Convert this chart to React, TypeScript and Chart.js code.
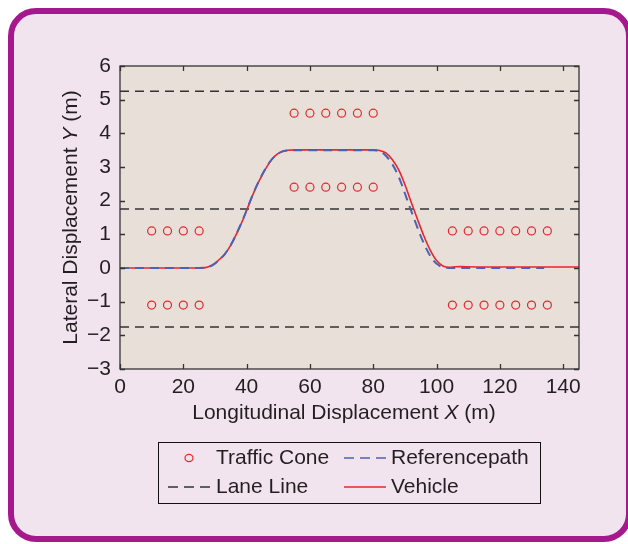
import React, { useEffect, useRef } from 'react';
import { Chart, registerables } from 'chart.js';

Chart.register(...registerables);

// ---------- data ----------
const xTicks = [0, 20, 40, 60, 80, 100, 120, 140];
const yTicks = [-3, -2, -1, 0, 1, 2, 3, 4, 5, 6];

const coneX = [
  10, 15, 20, 25,
  10, 15, 20, 25,
  55, 60, 65, 70, 75, 80,
  55, 60, 65, 70, 75, 80,
  105, 110, 115, 120, 125, 130, 135,
  105, 110, 115, 120, 125, 130, 135,
];
const coneY = [
  1.1, 1.1, 1.1, 1.1,
  -1.1, -1.1, -1.1, -1.1,
  4.6, 4.6, 4.6, 4.6, 4.6, 4.6,
  2.4, 2.4, 2.4, 2.4, 2.4, 2.4,
  1.1, 1.1, 1.1, 1.1, 1.1, 1.1, 1.1,
  -1.1, -1.1, -1.1, -1.1, -1.1, -1.1, -1.1,
];

const laneLevels = [5.25, 1.75, -1.75];
const laneX = [0, 145];

const refX = [0, 25, 27, 29, 31, 33, 35, 37, 39, 41, 43, 45, 47, 49, 51, 53, 55, 80, 81, 83, 85, 87, 89, 91, 93, 95, 97, 99, 101, 103, 105, 134];
const refY = [0, 0, 0.01, 0.07, 0.21, 0.40, 0.68, 1.06, 1.48, 1.96, 2.41, 2.79, 3.11, 3.33, 3.45, 3.49, 3.5, 3.5, 3.49, 3.42, 3.22, 2.92, 2.48, 1.95, 1.44, 0.95, 0.53, 0.22, 0.06, 0.01, 0, 0];

const vehX = [0, 25, 27, 29, 31, 33, 35, 37, 39, 41, 43, 45, 47, 49, 51, 53, 55, 80, 82, 84, 86, 88, 90, 92, 94, 96, 98, 100, 102, 104, 106, 108, 110, 115, 145];
const vehY = [0, 0, 0.01, 0.08, 0.22, 0.40, 0.68, 1.05, 1.47, 1.95, 2.40, 2.77, 3.10, 3.33, 3.45, 3.50, 3.51, 3.51, 3.49, 3.42, 3.22, 2.92, 2.48, 1.95, 1.44, 0.95, 0.53, 0.22, 0.06, 0.02, 0.035, 0.04, 0.035, 0.03, 0.03];

const legendLabels = ['Traffic Cone', 'Referencepath', 'Lane Line', 'Vehicle'];
const xTitleParts = ['Longitudinal Displacement ', 'X', ' (m)'];
const yTitleParts = ['Lateral Displacement ', 'Y', ' (m)'];

// ---------- styles ----------
const FAMILY = '"Liberation Sans", Arial, Helvetica, sans-serif';
const FS = 21;
const TEXT = '#231f20';
const RED = '#e8262b';
const BLUE = '#4a62b5';
const LANE = '#333333';
const PLOT_BG = '#e9dfd9';

const pts = (xs: number[], ys: number[]) => xs.map((x, i) => ({ x, y: ys[i] }));

function drawParts(ctx: CanvasRenderingContext2D, parts: string[], cx: number, cy: number) {
  const fonts = parts.map((_, i) => (i === 1 ? `italic ${FS}px ${FAMILY}` : `${FS}px ${FAMILY}`));
  const widths = parts.map((p, i) => {
    ctx.font = fonts[i];
    return ctx.measureText(p).width;
  });
  const total = widths.reduce((a, b) => a + b, 0);
  let x = cx - total / 2;
  ctx.textAlign = 'left';
  ctx.textBaseline = 'middle';
  ctx.fillStyle = TEXT;
  parts.forEach((p, i) => {
    ctx.font = fonts[i];
    ctx.fillText(p, x, cy);
    x += widths[i];
  });
}

const decor = {
  id: 'decor',
  beforeDatasetsDraw(chart: any) {
    const { ctx, chartArea: a } = chart;
    ctx.save();
    ctx.fillStyle = PLOT_BG;
    ctx.fillRect(a.left, a.top, a.right - a.left, a.bottom - a.top);
    ctx.restore();
  },
  afterDraw(chart: any) {
    const { ctx, chartArea: a, scales } = chart;
    ctx.save();
    // axes box
    ctx.strokeStyle = '#333';
    ctx.lineWidth = 1.3;
    ctx.setLineDash([]);
    ctx.strokeRect(a.left, a.top, a.right - a.left, a.bottom - a.top);
    // inward ticks
    const tl = 5;
    ctx.beginPath();
    for (const v of xTicks) {
      const px = Math.round(scales.x.getPixelForValue(v)) + 0.5;
      ctx.moveTo(px, a.bottom);
      ctx.lineTo(px, a.bottom - tl);
      ctx.moveTo(px, a.top);
      ctx.lineTo(px, a.top + tl);
    }
    for (const v of yTicks) {
      const py = Math.round(scales.y.getPixelForValue(v)) + 0.5;
      ctx.moveTo(a.left, py);
      ctx.lineTo(a.left + tl, py);
      ctx.moveTo(a.right, py);
      ctx.lineTo(a.right - tl, py);
    }
    ctx.stroke();

    // axis titles
    drawParts(ctx, xTitleParts, 344, 413);
    ctx.save();
    ctx.translate(71, (a.top + a.bottom) / 2);
    ctx.rotate(-Math.PI / 2);
    drawParts(ctx, yTitleParts, 0, 0);
    ctx.restore();

    // legend
    ctx.strokeStyle = '#111';
    ctx.lineWidth = 1;
    ctx.strokeRect(158.5, 442.5, 382, 61);
    const r1 = 458;
    const r2 = 487;
    ctx.font = `${FS}px ${FAMILY}`;
    ctx.fillStyle = TEXT;
    ctx.textAlign = 'left';
    ctx.textBaseline = 'middle';
    ctx.fillText(legendLabels[0], 216, r1);
    ctx.fillText(legendLabels[1], 391, r1);
    ctx.fillText(legendLabels[2], 216, r2);
    ctx.fillText(legendLabels[3], 391, r2);
    // cone marker
    ctx.strokeStyle = RED;
    ctx.lineWidth = 1.2;
    ctx.beginPath();
    ctx.ellipse(189, r1, 4, 3.6, 0, 0, Math.PI * 2);
    ctx.stroke();
    // reference sample
    ctx.strokeStyle = BLUE;
    ctx.lineWidth = 1.6;
    ctx.setLineDash([10, 6]);
    ctx.beginPath();
    ctx.moveTo(344, r1);
    ctx.lineTo(386, r1);
    ctx.stroke();
    // lane sample
    ctx.strokeStyle = LANE;
    ctx.lineWidth = 1.4;
    ctx.beginPath();
    ctx.moveTo(168, r2);
    ctx.lineTo(210, r2);
    ctx.stroke();
    // vehicle sample
    ctx.setLineDash([]);
    ctx.strokeStyle = RED;
    ctx.lineWidth = 1.5;
    ctx.beginPath();
    ctx.moveTo(344, r2);
    ctx.lineTo(386, r2);
    ctx.stroke();
    ctx.restore();
  },
};

export default function App() {
  const ref = useRef<HTMLCanvasElement | null>(null);

  useEffect(() => {
    if (!ref.current) return;
    const laneSets = laneLevels.map((lv) => ({
      label: 'Lane Line',
      data: laneX.map((x) => ({ x, y: lv })),
      showLine: true,
      borderColor: LANE,
      borderWidth: 1.5,
      borderDash: [9, 6],
      pointRadius: 0,
      order: 3,
    }));
    const chart = new Chart(ref.current, {
      type: 'scatter',
      data: {
        datasets: [
          {
            label: 'Traffic Cone',
            data: pts(coneX, coneY),
            pointStyle: 'circle',
            pointRadius: 4,
            borderColor: RED,
            backgroundColor: 'rgba(0,0,0,0)',
            borderWidth: 1.2,
            showLine: false,
            order: 0,
          },
          {
            label: 'Referencepath',
            data: pts(refX, refY),
            showLine: true,
            borderColor: BLUE,
            borderWidth: 2,
            borderDash: [9, 6],
            pointRadius: 0,
            cubicInterpolationMode: 'monotone',
            order: 1,
          },
          {
            label: 'Vehicle',
            data: pts(vehX, vehY),
            showLine: true,
            borderColor: RED,
            borderWidth: 1.6,
            pointRadius: 0,
            cubicInterpolationMode: 'monotone',
            order: 2,
          },
          ...laneSets,
        ] as any,
      },
      options: {
        animation: false,
        responsive: false,
        devicePixelRatio: 1,
        layout: { padding: { left: 60, top: 66, right: 49, bottom: 135 } },
        plugins: { legend: { display: false }, tooltip: { enabled: false } },
        scales: {
          x: {
            type: 'linear',
            min: 0,
            max: 145,
            grid: { display: false, drawTicks: false },
            border: { display: false },
            afterBuildTicks: (s: any) => {
              s.ticks = xTicks.map((v) => ({ value: v }));
            },
            afterFit: (s: any) => {
              s.height = 40;
            },
            ticks: {
              padding: 6,
              autoSkip: false,
              maxRotation: 0,
              color: TEXT,
              font: { family: FAMILY, size: FS },
            },
          },
          y: {
            type: 'linear',
            min: -3,
            max: 6,
            grid: { display: false, drawTicks: false },
            border: { display: false },
            afterBuildTicks: (s: any) => {
              s.ticks = yTicks.map((v) => ({ value: v }));
            },
            afterFit: (s: any) => {
              s.width = 60;
            },
            ticks: {
              padding: 9,
              autoSkip: false,
              color: TEXT,
              font: { family: FAMILY, size: FS },
              callback: (v: any) => String(v).replace('-', '\u2212'),
            },
          },
        },
      } as any,
      plugins: [decor],
    });
    return () => chart.destroy();
  }, []);

  return (
    <>
      <div
        style={{
          position: 'fixed',
          left: 8,
          top: 8,
          width: 624,
          height: 534,
          boxSizing: 'border-box',
          border: '6px solid #a5198c',
          borderRadius: 28,
          background: '#f1e4ef',
        }}
      />
      <canvas
        ref={ref}
        width={628}
        height={544}
        style={{ position: 'fixed', left: 0, top: 0, width: 628, height: 544 }}
      />
    </>
  );
}
